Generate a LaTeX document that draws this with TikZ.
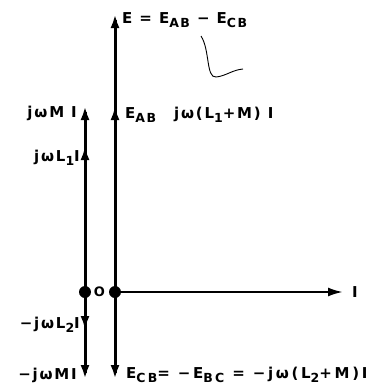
\documentclass[tikz,border=0pt]{standalone}
\usepackage{fontspec}
\setmainfont{DejaVu Sans}[LetterSpace=12,UprightFont={* Bold}]
\usetikzlibrary{arrows.meta}
\newcommand{\lowr}[1]{\raisebox{-0.45ex}{\fontsize{12.5}{12.5}\selectfont #1}}
\begin{document}
\begin{tikzpicture}[x=1pt,y=1pt,
  ln/.style={line width=3pt,shorten >=6pt},
  vec/.style={line width=3pt,-{Latex[length=14pt,width=9pt]}},
  axis/.style={line width=2.2pt,-{Latex[length=15pt,width=9pt]}},
  lbl/.style={inner sep=0pt,font=\fontsize{15}{15}\selectfont},
  dot/.style={circle,fill=black,inner sep=0pt,minimum size=12pt}]
\useasboundingbox (0,0) rectangle (381,-386);
% points
\node[dot] (L0) at (85,-292) {};
\node[dot] (R0) at (115,-292) {};
\node[lbl,font=\fontsize{13}{13}\selectfont] (O) at (99.5,-292) {O};
\coordinate (Lm1) at (85,-146);
\coordinate (Lm2) at (85,-106);
\coordinate (Rab) at (115,-106);
\coordinate (Re) at (115,-14);
\coordinate (Ld1) at (85,-330);
\coordinate (Ld2) at (85,-379);
\coordinate (Rd) at (115,-379);
\coordinate (Ix) at (343,-292);
% lines
\draw[ln] (L0.center) -- (Lm2);
\draw[ln] (R0.center) -- (Re);
\draw[ln] (L0.center) -- (Ld2);
\draw[ln] (R0.center) -- (Rd);
% arrowheads
\draw[vec] ([yshift=-15pt]Lm1) -- (Lm1);
\draw[vec] ([yshift=-15pt]Lm2) -- (Lm2);
\draw[vec] ([yshift=-15pt]Rab) -- (Rab);
\draw[vec] ([yshift=-15pt]Re) -- (Re);
\draw[vec] ([yshift=15pt]Ld1) -- (Ld1);
\draw[vec] ([yshift=15pt]Ld2) -- (Ld2);
\draw[vec] ([yshift=15pt]Rd) -- (Rd);
\draw[axis] (R0.center) -- (Ix);
% labels
\node[lbl,anchor=west] (tE) at (122,-20) {E = E\lowr{AB} − E\lowr{CB}};
\node[lbl,anchor=east] (tM) at (77,-113) {jωM I};
\node[lbl,anchor=east] (tL1) at (80,-158) {jωL\lowr{1}I};
\node[lbl,anchor=west] (tEab) at (125,-115) {E\lowr{AB}};
\node[lbl,anchor=west] (tj) at (174,-115) {jω(L\lowr{1}+M) I};
\node[lbl,anchor=east] (tL2) at (80,-325) {−jωL\lowr{2}I};
\node[lbl,anchor=east] (tMd) at (77,-375) {−jωMI};
\node[lbl,anchor=west,font=\fontsize{15}{15}\selectfont\addfontfeature{LetterSpace=18}] (tEcb) at (126,-375) {E\lowr{CB}= −E\lowr{BC} = −jω(L\lowr{2}+M)I};
\node[lbl,anchor=west] (tI) at (352,-292) {I};
% scribble
\draw[line width=0.9pt] (201,-36) .. controls (210,-50) and (206,-78) .. (216,-77) .. controls (226,-76) and (232,-70) .. (243,-69);
\end{tikzpicture}
\end{document}
